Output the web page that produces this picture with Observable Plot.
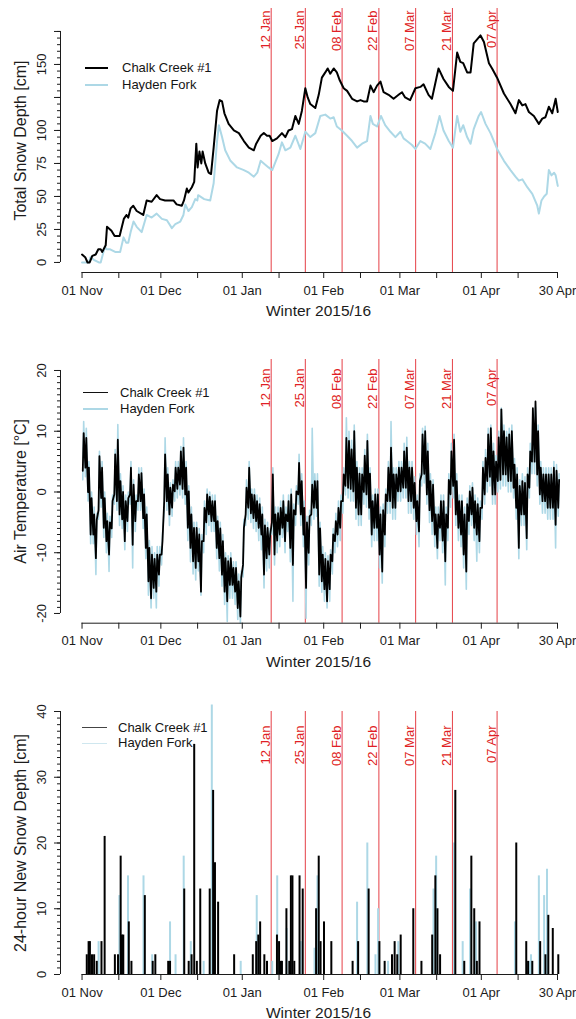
<!DOCTYPE html>
<html>
<head>
<meta charset="utf-8">
<script src="https://cdn.jsdelivr.net/npm/d3@7"></script>
<script src="https://cdn.jsdelivr.net/npm/@observablehq/plot@0.6"></script>
<style>
html,body{margin:0;padding:0;background:#fff;overflow:hidden;}
#chart{width:576px;}
.panel{position:relative;width:576px;}
.panel svg{display:block;}
.lg{position:absolute;font-family:"Liberation Sans",Arial,sans-serif;font-size:13px;color:#151515;white-space:nowrap;line-height:16px;}
.sw{position:absolute;}
</style>
</head>
<body>
<div id="chart"></div>
<script>
// ---------------- DATA ----------------
const seasonStart = "2015-11-01";            // day 0 of the season
const seasonEnd = "2016-04-30";
const seriesNames = ["Chalk Creek #1", "Hayden Fork"];
const xTitle = "Winter 2015/16";
const yTitles = ["Total Snow Depth [cm]", "Air Temperature [°C]", "24-hour New Snow Depth [cm]"];
const eventDates = ["2016-01-12","2016-01-25","2016-02-08","2016-02-22","2016-03-07","2016-03-21","2016-04-07"];
const monthTicks = ["2015-11-01","2015-12-01","2016-01-01","2016-02-01","2016-03-01","2016-04-01","2016-04-30"];
const midTicks = ["2015-11-15","2015-12-15","2016-01-15","2016-02-15","2016-03-15","2016-04-15"];
const depthTickLabels = [0,25,50,75,100,150];
const tempTickLabels = [-20,-10,0,10,20];
const newSnowTickLabels = [0,10,20,30,40];

// Total snow depth (days since 1 Nov, cm)
const chalkDepthDay = [0,1.2,2.1,2.9,3.9,5.2,6.2,7.1,7.7,9,9.5,11.2,12.4,14.3,15.9,16.9,17.6,18.5,19.5,20.8,23.3,24.6,26.5,28.4,29.7,31.6,34.8,36,38,38.8,39.9,40.5,41.8,42.7,43.5,44,44.7,45.4,45.9,46.9,48.2,49.1,50.1,51.4,52.4,53.3,54.2,55.8,57.8,59.7,61.6,63.5,65.4,66.3,68,69.2,70.4,71.4,72.4,74.2,76.1,77.4,78.6,79.9,81.2,82.5,83.7,85,85.9,86.9,88.8,90.1,91.3,92.6,93.5,94.5,95.8,97,98.1,99.6,100.9,102.8,104.7,106,107.2,108.5,109.8,111,112.3,113.6,114.8,116.7,118.6,120.5,121.8,123,124.9,126.9,128.8,130,131.9,133.2,135.7,137.6,139.6,141.2,142.8,144,145.1,146.6,147.9,149.1,150.4,151.7,153,154.9,156.1,158,160.6,163.1,165,166.3,167.6,168.8,170.1,172,173.9,175.2,176.4,177.7,179,180.3,181.1];
const chalkDepth = [6,4,0,0,5,6,10,10,8,13,27,24,20,20,33,36,34,41,43,39,36,47,46,51,48,47,47,44,43,47,56,53,57,61,90,72,84,75,84,75,68,67,87,115,123,122,113,105,100,98,92,87,85,90,96,98,96,96,92,94,98,95,100,101,111,105,115,132,125,120,117,127,140,144,147,143,147,144,138,132,130,124,122,123,122,122,134,129,134,137,129,127,124,127,129,125,123,132,133,135,127,124,147,139,133,130,159,152,151,144,144,166,169,172,167,151,147,140,128,120,113,123,119,120,114,111,105,109,110,118,113,124,114];
const haydenDepthDay = [0,2.6,3.2,4.5,6.4,7.1,8.7,9.3,10.7,12.6,14.5,15.8,16.8,17.6,18.5,19.6,20.8,22.7,24.6,26.5,28.4,30.4,32.3,34.2,35.5,37.4,38.6,39.3,40.5,41.8,43.1,43.9,44.2,46.5,48.8,50.1,51.4,52.1,53.3,54.5,56.5,59,61.6,63.5,65.4,66.7,68,69.2,71,72.4,74.8,76.1,77.4,79.3,81.2,83.1,85,86.9,88.8,90.7,92.6,94.5,95.8,97,98.9,100.9,102.8,104.7,106.6,108.5,109.8,110.7,112.3,113.8,115.4,117.4,119.3,121.2,122.4,123.7,125.6,126.9,128.8,130.6,132.6,134.5,136.1,137.6,139.6,141.2,142.8,144,145.1,146.6,147.9,149.1,151,151.9,153.6,155.5,158,160.6,163.1,165,166.3,167.6,169.5,171.4,173.3,173.9,174.9,175.9,176.9,177.7,178.7,179.7,180.3,181.1];
const haydenDepth = [0,0,4,2,0,0,12,10,10,8,8,19,15,15,23,31,27,23,36,34,37,33,32,26,29,31,36,44,39,42,48,47,51,48,47,60,92,104,95,85,77,72,70,68,65,68,77,75,72,70,82,91,85,87,96,86,99,95,98,111,112,109,110,103,100,96,92,87,90,92,111,105,103,111,104,99,95,99,94,92,89,86,92,90,86,98,111,100,92,87,111,99,104,95,90,101,111,114,105,98,86,77,70,65,62,63,57,52,43,37,47,50,52,70,66,68,66,58];

// Air temperature: daily maximum / minimum, day 0 = 1 Nov (°C)
const chalkTempMax = [9.7,8.9,4,-1,-3.7,-4.5,5.9,4,-1,-4.8,-5,-1.5,6.2,8.6,1.8,0,-1.5,-1,4,1.2,-1.5,2.9,3.1,-0.4,-3.7,-9.2,-10.3,-11,-10.3,-10.3,-8.1,6.2,2.9,0.7,1.2,4,4,6.7,7.3,4,0.1,-3.7,-5.9,-5.9,-7,-8.1,-2.6,-0.4,-0.8,-1.5,-1.5,-4.8,-6,-8.1,-10.9,-11.4,-10.9,-12.5,-12.5,-14.7,-14,-5.9,0.7,4,-0.4,-0.5,-1.5,-2,-3.7,-5.5,-5.9,-7,2.9,-3.7,-3.5,-2.6,-1.5,-3.7,-1.5,-0.4,-3,0.1,4.8,1.8,-2.6,-5,-4,1.2,1.8,1.8,-6,-10.3,-11,-11.4,-10.3,-7,-4.8,-2.6,-1.5,2.9,8.9,8.4,7,10,4,3,2.9,6,8.4,3,-1.5,-0.4,-0.4,-3.7,-3,-0.4,4,7.3,2.9,2.9,4,4,6.7,7.3,4,4,1.5,-1.5,1.8,9.5,10,6.7,1.8,1.2,-3.7,-3.7,-1.5,-1.5,-3.7,2,6.7,8.6,1.8,-1.5,-1.5,-3.7,-2,0.1,0.7,-1.5,-2,-2.6,4,5.6,9.5,10.5,6.7,5,9,13.6,10,9,9.5,10,4.5,2.9,1,1.8,1.5,2.9,6.7,13.8,14.9,10,4,2.9,2.9,2.9,2.9,4,3.5,2];
const chalkTempMin = [3.5,4,0,-7,-7,-10.9,-3,-1,-5.9,-8.1,-10.3,-6,-0.4,-1.5,-3.7,-4.5,-8.1,-4.8,-0.4,-8.7,-4.8,-1.5,-1.5,-4.3,-9.2,-14.7,-17.5,-15.8,-16.4,-13.6,-10.3,-1.5,-1.5,-3.7,-2.6,0.1,0.5,1.2,0.5,-0.4,-5.9,-9.2,-11.4,-12.5,-11.4,-16.4,-8.1,-5,-3.7,-4.8,-4.8,-9.2,-10.9,-13.6,-16.4,-18,-15.3,-15.3,-16.4,-19.1,-20.5,-12,-3.7,-2.6,-3.5,-4.3,-4.8,-5.9,-7,-13.6,-10.9,-10.3,-5,-10.3,-8,-7,-5.9,-8.1,-4.8,-9.2,-12,-3.7,-0.4,-3.7,-7,-15.8,-10,-3.7,-2.6,-2.6,-13.6,-14.7,-16,-18,-16,-11.4,-8.1,-7,-5.9,-1.5,1,0.7,0.5,0.1,-2.6,-3.7,-3.7,0,-0.4,-2.6,-7,-5.9,-5.9,-10.3,-13.1,-7,-1.5,-1.5,-2.6,-2.6,0.1,0.1,0.7,0.7,-1.5,-1.5,-2.6,-4.8,-6.5,2.9,3,-0.4,-3,-4.8,-7,-9.2,-5.9,-8,-11.4,-5.9,-0.4,1,-3.7,-5.9,-7,-10.3,-13.1,-4.8,-3.7,-5.9,-7,-8.1,-2.6,-0.4,1.8,2.5,-0.4,-0.4,1.8,2,2.9,2.9,1.8,1.8,0.7,-2.6,-9.2,-3.7,-3.7,-7.6,0.7,5,5,2.9,-0.4,-1.5,-1.5,-2.6,-2.6,-2.6,-5.4,-2.6];
const haydenTempMax = [11.6,10.5,5,0,-2.5,-3.5,6.7,5,0,-3.5,-4,-0.5,7,11.1,3,1,-0.5,0,5,2,-0.5,4,4,0.5,-2.5,-8,-9,-10,-9,-9,-7,8.9,4,1.5,2,5,5,7.5,8.9,5,1,-2.5,-5,-5,-6,-7,-1.5,0.5,0,-0.5,-0.5,-4,-5,-7,-10,-10.5,-10,-11.5,-11.5,-13.5,-13,-4.5,2,5,0.5,0.5,-0.5,-1,-2.5,-4.5,-5,-6,4,-2.5,-2.5,-1.5,-0.5,-2.5,-0.5,0.5,-2,1,6.2,3,-1.5,-4,-3,10.5,3,3,-5,-9,-10,-10.5,-9.5,-6,-3.5,-1.5,-0.5,4,12.2,10,8.5,11,5,4,4,7,9.5,4,-0.5,0.5,0.5,-2.5,-2,0.5,5,11.6,4,4,5,5,8,9,5,5,2.5,-0.5,3,10.5,10.8,8,3,2,-2.5,-2.5,-0.5,-0.5,-2.5,3,8,9.5,3,-0.5,-0.5,-2.5,-1,1,1.5,-0.5,-1,-1.5,5,7,10.5,11,8,6,10,13.8,11,10,10.5,11,5.5,4,2,3,2.5,4,8,13.5,14,11,5,4,4,4,4,5,4.5,3];
const haydenTempMin = [2,2.5,-1.5,-8.5,-8.5,-13.6,-4.5,-2.5,-7.5,-10,-13.1,-7.5,-2,-3,-5.5,-6,-9.5,-6.5,-2,-12.5,-6.5,-3,-3,-6,-11,-17,-19.1,-17.5,-19.1,-15.5,-12,-3,-3,-5.5,-4,-1.5,-1,-0.5,-1,-2,-8,-11.5,-13.5,-14.5,-13,-17,-10,-7,-5.5,-6.5,-6.5,-11,-13,-15.5,-18.5,-21.3,-17.5,-17.5,-18.5,-21,-21.6,-14,-5.5,-4.5,-5,-6,-6.5,-8,-9.5,-15.8,-13,-12.5,-7,-12,-10,-9,-7.5,-10,-6.5,-11.5,-18,-5.5,-2,-5.5,-9,-20.8,-12,-5.5,-4.5,-4,-15.5,-16.5,-18,-19.1,-18,-13.5,-10,-9,-8,-3.5,-0.5,-1,-1.5,-1.5,-4.5,-5.5,-5.5,-2,-2.5,-4.5,-9,-8,-8,-12.5,-15,-9,-3.5,-3.5,-4.5,-4.5,-1.5,-1.5,-1,-1,-3.5,-3.5,-4.5,-7,-9,1,1.5,-2,-5,-7,-9,-11,-8,-10,-15.3,-8,-2.5,-1,-5.5,-8,-9,-12.5,-16,-7,-5.5,-8,-11.4,-10,-4.5,-2,0,1,-2,-2,0,0.5,1,1,0,0,-1,-4.5,-11,-5.5,-5.5,-9.5,-1,3,3,1,-2,-3.5,-3.5,-4.5,-4.5,-4.5,-9.2,-4];

// 24-hour new snow (days since 1 Nov, cm)
const chalkNewSnowDay = [1.8,2.5,3.0,3.8,4.6,5.6,7.4,8.6,12.5,13.7,14.7,15.2,15.7,17.8,18.8,23.9,26.9,27.9,32.8,33.5,38.9,40.6,41.7,42.7,43.7,45.0,48.6,49.9,50.6,51.8,57.9,65.0,66.3,67.1,67.8,69.4,70.4,74.2,75.0,75.6,76.1,77.8,78.9,79.5,80.1,80.8,82.8,84.0,89.1,90.1,90.8,92.1,94.9,103.0,105.1,109.1,113.2,115.2,118.0,119.0,120.0,121.3,126.1,129.2,133.3,134.5,135.3,136.3,142.1,145.5,148.2,149.3,150.3,151.3,165.3,169.1,169.8,171.4,174.4,176.4,177.5,179.2,181.3];
const chalkNewSnow = [3,5,5,3,3,2,5,21,3,3,18,6,6,8,2,12,2,3,2,2,13,2,3,35,2,13,13,28,17,11,3,3,5,6,8,3,2,6,5,2,2,10,2,15,15,2,15,13,10,18,5,8,5,2,5,13,5,2,3,5,3,6,10,2,6,15,10,3,28,2,18,10,2,8,20,5,2,2,5,3,9,7,3];
const haydenNewSnowDay = [6.3,14.2,17.5,23.4,26.7,33.5,35.6,38.7,41.4,46.3,49.4,60.4,66.5,72.4,74.3,77.9,83.3,88.5,89.6,104.7,108.6,111.7,112.7,116.5,120.4,133.8,134.8,141.6,144.9,147.7,150.0,164.8,170.4,170.9,173.9,175.9,177.0];
const haydenNewSnow = [5,12,15,15,3,8,3,18,5,2,41,2,12,2,15,7,5,4,15,11,20,3,10,2,5,13,18,20,5,13,8,8,2,3,15,12,16];

// ---------------- HELPERS ----------------
const DAY = 864e5;
const parse = s => new Date(s + "T00:00:00Z");
const t0 = parse(seasonStart).getTime();
const toDate = d => new Date(t0 + d * DAY);
const fmtDay = d3.utcFormat("%d %b");
const first = parse(seasonStart), last = parse(seasonEnd);
const xDomain = [new Date(first.getTime() - 8.2 * DAY), new Date(last.getTime() + 7.23 * DAY)];
const events = eventDates.map(parse);
const FONT = "'Liberation Sans', Arial, Helvetica, sans-serif";
const axisColor = "#1c1c1c";
const red = "#e01f26";
const blue = "#add8e6";

const pairs = (days, vals) => days.map((d, i) => ({t: toDate(d), v: vals[i]}));
const diurnal = (mins, maxs) => mins.flatMap((lo, d) => [{t: toDate(d + 0.28), v: lo}, {t: toDate(d + 0.62), v: maxs[d]}]);

function panel({height, marginTop, marginBottom, yDomain, yAxis, yMajor, yMinor, yLabels, yTitle, eventDy, marks}) {
  return Plot.plot({
    width: 576, height, marginLeft: 60, marginRight: 0, marginTop, marginBottom,
    style: {fontFamily: FONT, fontSize: "13px", color: axisColor, background: "white", overflow: "visible"},
    x: {type: "utc", domain: xDomain},
    y: {domain: yDomain},
    marks: [
      Plot.ruleX(events, {x: d => d, stroke: red, strokeWidth: 1, strokeOpacity: 0.85}),
      Plot.text(events, {x: d => d, text: d => fmtDay(d), frameAnchor: "top", rotate: -90, textAnchor: "end",
        lineAnchor: "bottom", dx: -1.5, dy: eventDy, fill: red, fontSize: 13}),
      ...marks,
      Plot.ruleY([yDomain[0]], {x1: () => first, x2: () => last, stroke: axisColor}),
      Plot.axisX({ticks: monthTicks.map(parse), tickSize: 6, tickPadding: 7, tickFormat: fmtDay, fontSize: 13, label: null}),
      Plot.axisX({ticks: midTicks.map(parse), tickSize: 6, tickFormat: () => "", label: null}),
      Plot.ruleX([xDomain[0]], {y1: () => yAxis[0], y2: () => yAxis[1], stroke: axisColor}),
      Plot.axisY({ticks: yMajor, tickSize: 6, tickRotate: -90, tickPadding: 9, fontSize: 13,
        tickFormat: d => yLabels.includes(d) ? String(d) : "", label: null}),
      Plot.axisY({ticks: yMinor, tickSize: 3, tickFormat: () => "", label: null}),
      Plot.text([yTitle], {text: d => d, frameAnchor: "left", dx: -40, rotate: -90, fontSize: 16,
        textAnchor: "middle", lineAnchor: "middle"}),
      Plot.text([xTitle], {text: d => d, frameAnchor: "bottom", dy: 38.5, fontSize: 15.5,
        textAnchor: "middle", lineAnchor: "middle"})
    ]
  });
}

function addLegend(div, cfg) {
  cfg.items.forEach(it => {
    const s = document.createElement("div");
    s.className = "sw";
    s.style.left = cfg.x1 + "px";
    s.style.width = (cfg.x2 - cfg.x1) + "px";
    s.style.top = (it.y - it.w / 2) + "px";
    s.style.height = it.w + "px";
    s.style.background = it.color;
    div.appendChild(s);
    const t = document.createElement("div");
    t.className = "lg";
    t.style.left = cfg.tx + "px";
    t.style.top = (it.y - 8) + "px";
    t.textContent = it.label;
    div.appendChild(t);
  });
}

const chart = document.getElementById("chart");
function mount(svg, legendCfg) {
  const div = document.createElement("div");
  div.className = "panel";
  div.appendChild(svg);
  addLegend(div, legendCfg);
  chart.appendChild(div);
}

// Panel 1: total snow depth
mount(panel({
  height: 340, marginTop: 8, marginBottom: 68, yDomain: [-7.6, 192.4], yAxis: [0, 175],
  yMajor: d3.range(0, 176, 25), yMinor: d3.range(0, 176, 5), yLabels: depthTickLabels,
  yTitle: yTitles[0], eventDy: 2,
  marks: [
    Plot.line(pairs(haydenDepthDay, haydenDepth), {x: "t", y: "v", stroke: blue, strokeWidth: 2}),
    Plot.line(pairs(chalkDepthDay, chalkDepth), {x: "t", y: "v", stroke: "black", strokeWidth: 2})
  ]
}), {x1: 85, x2: 108, tx: 122, items: [
  {label: seriesNames[0], color: "#000", w: 2, y: 68},
  {label: seriesNames[1], color: blue, w: 2, y: 85}]});

// Panel 2: air temperature
mount(panel({
  height: 340, marginTop: 19, marginBottom: 57.3, yDomain: [-21.6, 21.81], yAxis: [-20, 20],
  yMajor: d3.range(-20, 21, 10), yMinor: d3.range(-20, 21, 1), yLabels: tempTickLabels,
  yTitle: yTitles[1], eventDy: 9,
  marks: [
    Plot.line(diurnal(haydenTempMin, haydenTempMax), {x: "t", y: "v", stroke: blue, strokeWidth: 1.6}),
    Plot.line(diurnal(chalkTempMin, chalkTempMax), {x: "t", y: "v", stroke: "black", strokeWidth: 1.8})
  ]
}), {x1: 83, x2: 108, tx: 120, items: [
  {label: seriesNames[0], color: "#111", w: 1.3, y: 52.7},
  {label: seriesNames[1], color: blue, w: 1.3, y: 69}]});

// Panel 3: 24-hour new snow
mount(panel({
  height: 339, marginTop: 31, marginBottom: 45, yDomain: [0, 40], yAxis: [0, 40],
  yMajor: d3.range(0, 41, 10), yMinor: d3.range(0, 41, 1), yLabels: newSnowTickLabels,
  yTitle: yTitles[2], eventDy: 14,
  marks: [
    Plot.ruleX(pairs(haydenNewSnowDay, haydenNewSnow), {x: "t", y1: 0, y2: "v", stroke: blue, strokeWidth: 2}),
    Plot.ruleX(pairs(chalkNewSnowDay, chalkNewSnow), {x: "t", y1: 0, y2: "v", stroke: "black", strokeWidth: 2})
  ]
}), {x1: 82, x2: 107, tx: 118, items: [
  {label: seriesNames[0], color: "#444", w: 1.6, y: 47.7},
  {label: seriesNames[1], color: "#cfe7ef", w: 1.6, y: 63.3}]});
</script>
</body>
</html>
